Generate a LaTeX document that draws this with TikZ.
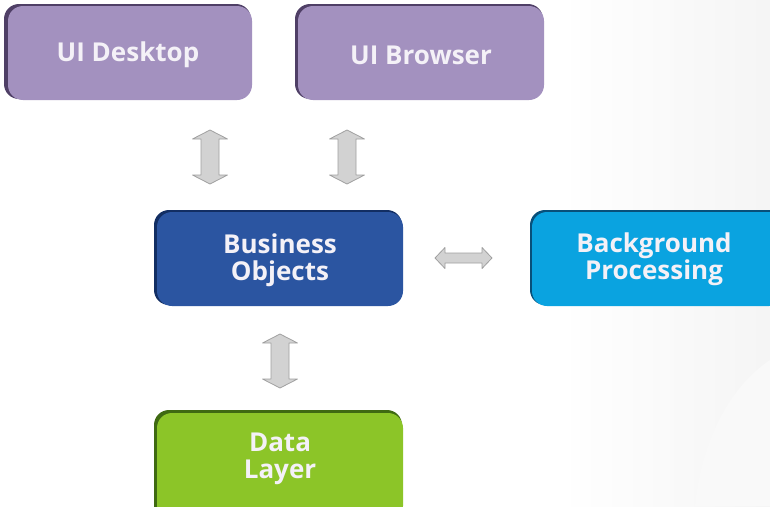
\documentclass[tikz,border=0pt]{standalone}
\usepackage{fontspec}
\setmainfont{Open Sans}
\usetikzlibrary{calc}
\definecolor{purp}{HTML}{A391BF}
\definecolor{purpd}{HTML}{4F3F66}
\definecolor{bluem}{HTML}{2B55A1}
\definecolor{blued}{HTML}{122E63}
\definecolor{cyanm}{HTML}{0AA3E0}
\definecolor{cyand}{HTML}{08507A}
\definecolor{greenm}{HTML}{8CC528}
\definecolor{greend}{HTML}{3F6A12}
\definecolor{arrfill}{HTML}{D2D2D2}
\definecolor{arrline}{HTML}{A0A0A0}
\definecolor{txt}{HTML}{F4F1F7}
\tikzset{
  box/.style={rounded corners=15pt, minimum height=94pt, align=center,
    text=txt, font=\bfseries\fontsize{26}{27}\selectfont, inner sep=0pt},
  boxtext/.style={text=txt, font=\bfseries\fontsize{26}{27}\selectfont, align=center, inner sep=0pt},
  blockarrow/.style={fill=arrfill, draw=arrline, line width=0.8pt, line join=round}
}
% vertical double block arrow: name, x, ytop, ybottom
\newcommand{\vdarrow}[4]{%
  \coordinate (#1-t) at (#2,#3);
  \coordinate (#1-b) at (#2,#4);
  \draw[blockarrow] (#1-t) -- ++(17.5,-9) -- ++(-8.5,0) |- ($(#1-b)+(9,9)$)
    -- ++(8.5,0) -- (#1-b) -- ++(-17.5,9) -- ++(8.5,0) |- ($(#1-t)+(-9,-9)$)
    -- ++(-8.5,0) -- cycle;
}
% horizontal double block arrow: name, xleft, xright, y
\newcommand{\hdarrow}[4]{%
  \coordinate (#1-l) at (#2,#4);
  \coordinate (#1-r) at (#3,#4);
  \draw[blockarrow] (#1-l) -- ++(10,10.5) -- ++(0,-5.5) -| ($(#1-r)+(-10,5)$)
    -- ++(0,5.5) -- (#1-r) -- ++(-10,-10.5) -- ++(0,5.5) -| ($(#1-l)+(10,-5)$)
    -- ++(0,-5.5) -- cycle;
}
\begin{document}
\begin{tikzpicture}[x=1pt,y=1pt]
\useasboundingbox (0,0) rectangle (770,-506);
\fill[white] (0,0) rectangle (770,-506);
% faint background
\shade[left color=white, right color=black!4] (560,0) rectangle (770,-506);
\fill[black!2.5] (770,-360) .. controls (725,-390) and (700,-450) .. (695,-506) -- (770,-506) -- cycle;
% boxes
\fill[purpd, rounded corners=15pt] (4,-4) rectangle (251,-99);
\node[box, fill=purp, minimum width=244pt] (desk) at (130,-53) {};
\node[boxtext] (deskt) at (128,-55) {UI Desktop};
\fill[purpd, rounded corners=15pt] (295,-4) rectangle (543,-99);
\node[box, fill=purp, minimum width=246pt] (brow) at (421,-53) {};
\node[boxtext] (browt) at (421,-55) {UI Browser};
\fill[blued, rounded corners=15pt] (154,-210) rectangle (402,-305);
\node[box, fill=bluem, minimum width=246pt] (bo) at (280,-259) {};
\node[boxtext] (bot) at (280,-260) {Business\\Objects};
\fill[cyand, rounded corners=15pt] (530,-210) rectangle (790,-305);
\node[box, fill=cyanm, minimum width=252pt] (bp) at (658,-259) {};
\node[boxtext] (bpt) at (654,-259) {Background\\Processing};
\fill[greend, rounded corners=15pt] (154,-410) rectangle (402,-520);
\node[box, fill=greenm, minimum width=246pt, minimum height=108pt] (dl) at (280,-467) {};
\node[boxtext] (dlt) at (280,-459) {Data\\Layer};
% arrows
\vdarrow{a1}{210}{-130}{-184}
\vdarrow{a2}{347}{-130}{-184}
\vdarrow{a3}{280}{-334}{-388}
\hdarrow{a4}{435}{492}{-258}
\end{tikzpicture}
\end{document}
